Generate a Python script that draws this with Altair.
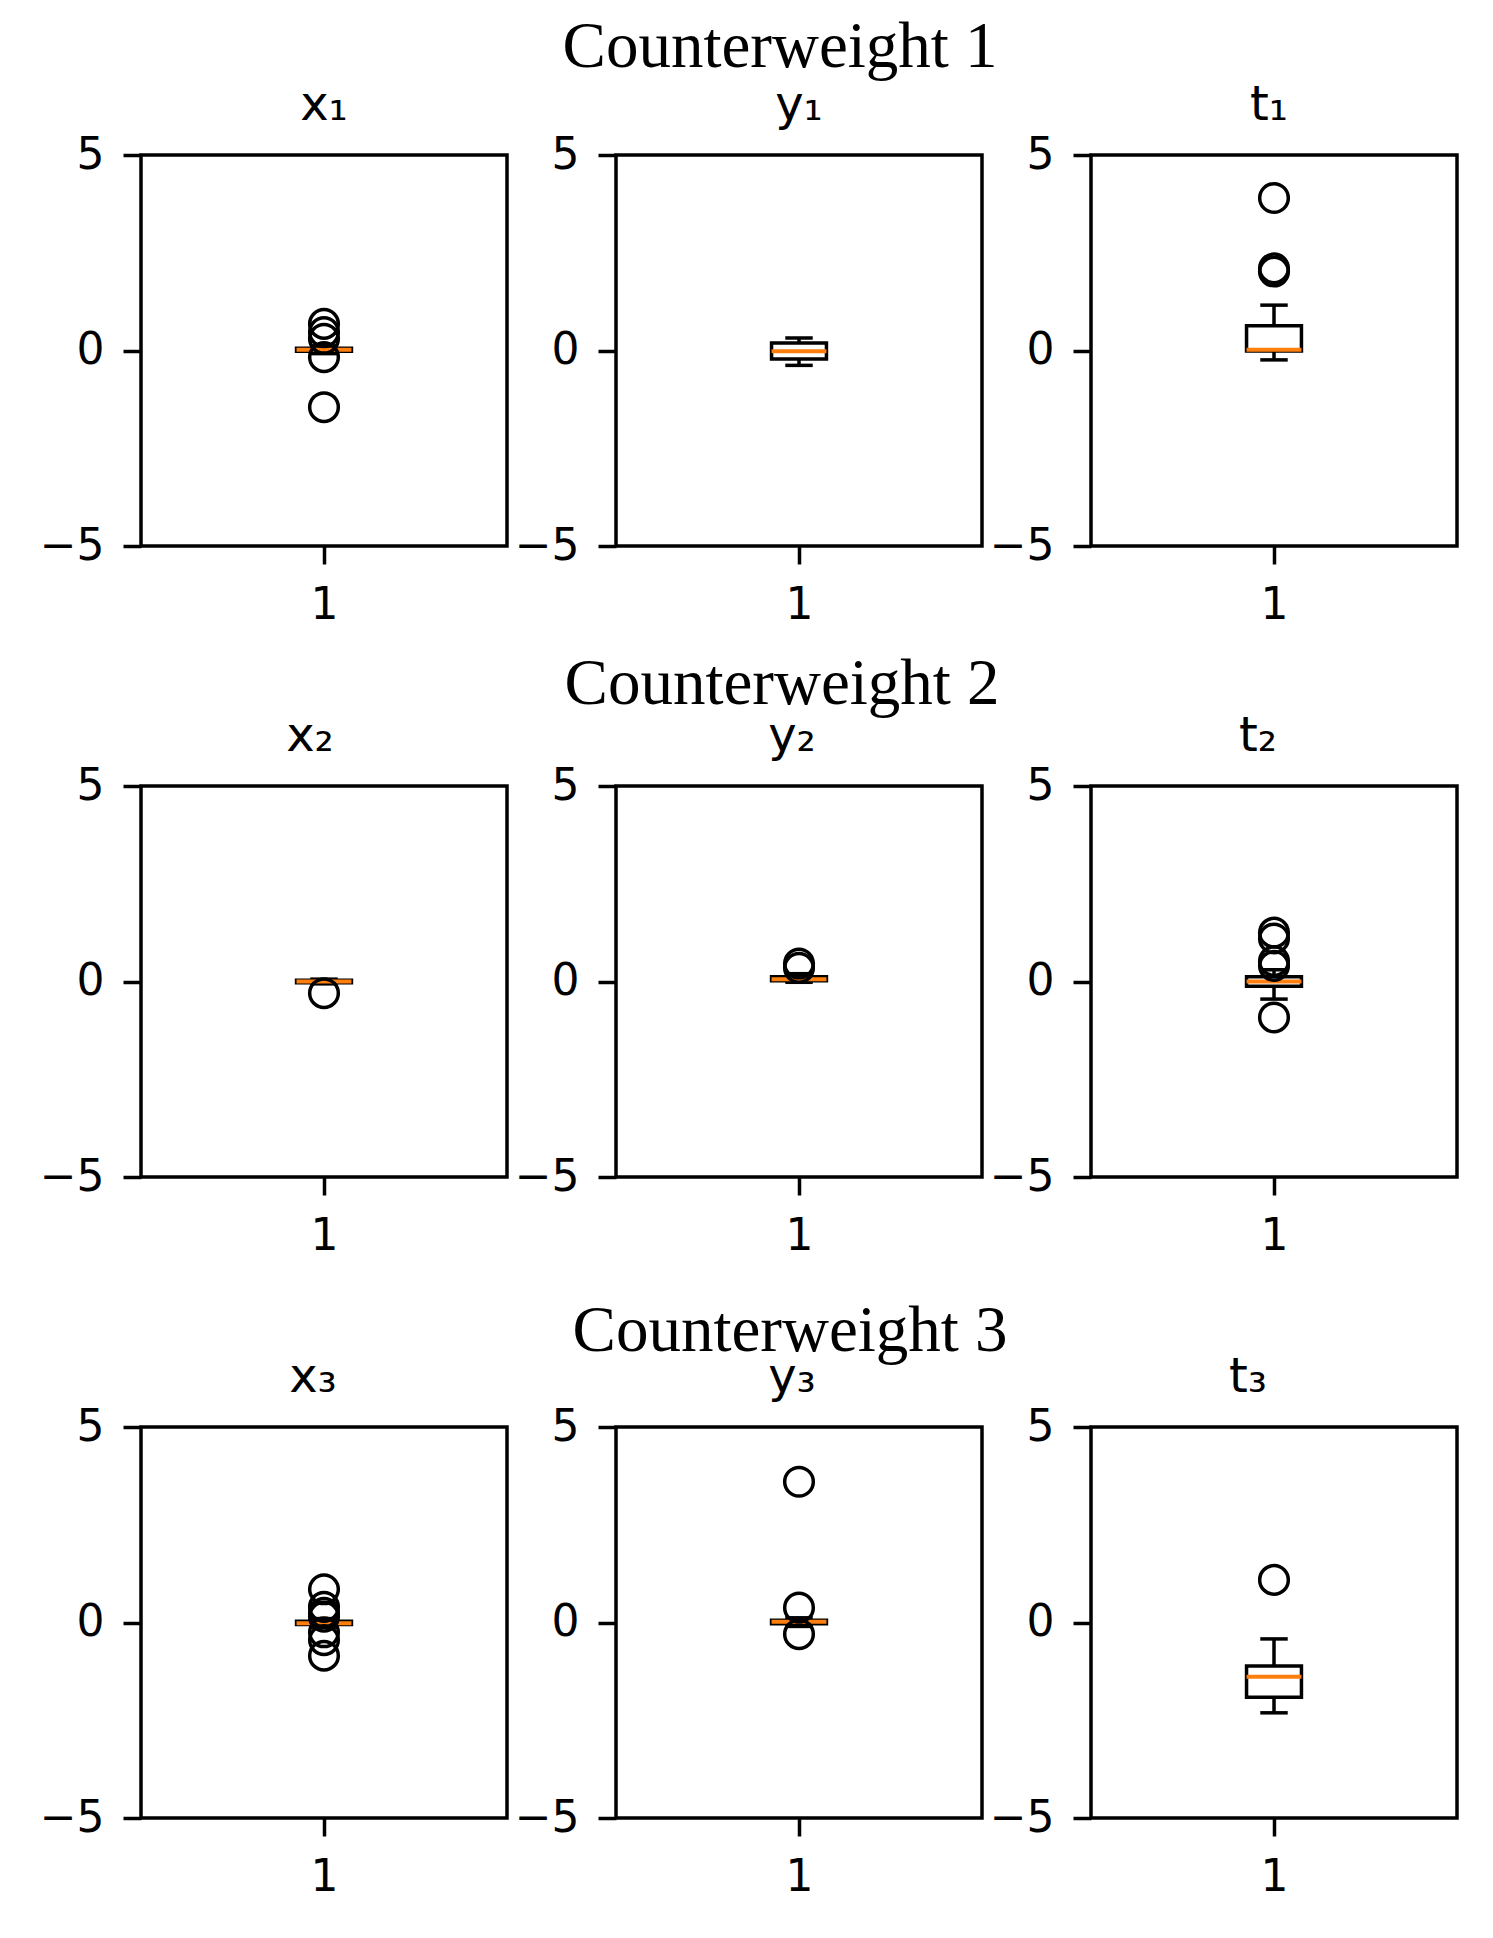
import altair as alt
import pandas as pd

# ---- data ----
panel_names = ["x₁", "y₁", "t₁", "x₂", "y₂", "t₂", "x₃", "y₃", "t₃"]
row_titles = ["Counterweight 1", "Counterweight 2", "Counterweight 3"]
q1 = [-0.02, -0.22, -0.01, -0.03, 0.02, -0.12, -0.05, -0.03, -1.91]
medians = [0.02, -0.02, 0.02, 0.0, 0.06, 0.0, -0.02, 0.02, -1.39]
q3 = [0.06, 0.19, 0.63, 0.03, 0.12, 0.12, 0.03, 0.06, -1.11]
whisker_lo = [-0.08, -0.38, -0.24, -0.06, -0.02, -0.45, -0.12, -0.10, -2.31]
whisker_hi = [0.12, 0.32, 1.16, 0.06, 0.20, 0.30, 0.10, 0.12, -0.42]
outliers = [
    [0.68, 0.47, 0.30, -0.17, -1.45],
    [],
    [3.9, 2.1, 2.02],
    [-0.3],
    [0.46, 0.35],
    [1.25, 1.10, 0.52, 0.40, -0.92],
    [0.85, 0.40, 0.25, 0.15, -0.25, -0.45, -0.85],
    [3.6, 0.38, -0.30],
    [1.09],
]
position = 1
x_ticks = [1]
y_ticks = [-5, 0, 5]

# ---- style ----
BOX_W = 0.15
PW, PH = 366, 391
LW = 3.5
MEDIAN_COLOR = "#ff7f0e"
ROW_TITLE_OFFSETS = [-1, -7, -13]
ROW_TITLE_DX = [32, 34, 42]
PANEL_TITLE_DX = [0, 0, -5, -14, -7, -16, -11, -7, -26]


def panel(i):
    box = pd.DataFrame({
        "pos": [position],
        "left": [position - BOX_W / 2],
        "right": [position + BOX_W / 2],
        "cap_l": [position - BOX_W / 4],
        "cap_r": [position + BOX_W / 4],
        "q1": [q1[i]],
        "med": [medians[i]],
        "q3": [q3[i]],
        "wlo": [whisker_lo[i]],
        "whi": [whisker_hi[i]],
    })
    fl = pd.DataFrame({"pos": [position] * len(outliers[i]), "v": outliers[i]})

    xs = alt.Scale(domain=[0.5, 1.5], nice=False, zero=False)
    ys = alt.Scale(domain=[-5, 5], nice=False, zero=False)
    xax = alt.Axis(values=x_ticks, format="d")
    yax = alt.Axis(values=y_ticks, format="d")

    def X(f):
        return alt.X(f, type="quantitative", scale=xs, axis=xax, title=None)

    def Y(f):
        return alt.Y(f, type="quantitative", scale=ys, axis=yax, title=None)

    base = alt.Chart(box)
    rect = base.mark_rect(fillOpacity=0, stroke="black", strokeWidth=LW).encode(
        x=X("left"), x2="right", y=Y("q1"), y2="q3")
    w_up = base.mark_rule(color="black", strokeWidth=LW).encode(
        x=X("pos"), y=Y("q3"), y2="whi")
    w_dn = base.mark_rule(color="black", strokeWidth=LW).encode(
        x=X("pos"), y=Y("q1"), y2="wlo")
    cap_up = base.mark_rule(color="black", strokeWidth=LW).encode(
        x=X("cap_l"), x2="cap_r", y=Y("whi"))
    cap_dn = base.mark_rule(color="black", strokeWidth=LW).encode(
        x=X("cap_l"), x2="cap_r", y=Y("wlo"))
    med = base.mark_rule(color=MEDIAN_COLOR, strokeWidth=4).encode(
        x=X("left"), x2="right", y=Y("med"))
    pts = alt.Chart(fl).mark_point(
        shape="circle", filled=False, color="black", strokeWidth=LW,
        size=820, opacity=1).encode(x=X("pos"), y=Y("v"))

    return alt.layer(rect, w_up, w_dn, cap_up, cap_dn, med, pts).properties(
        width=PW, height=PH,
        title=alt.TitleParams(text=panel_names[i], font="DejaVu Sans",
                              fontSize=48, fontWeight="normal", color="black",
                              offset=3, dx=PANEL_TITLE_DX[i]),
    )


rows = []
for r in range(3):
    row = alt.hconcat(*[panel(3 * r + c) for c in range(3)], spacing=3).properties(
        title=alt.TitleParams(text=row_titles[r], font="Liberation Serif",
                              fontSize=65, fontWeight="normal", color="black",
                              anchor="middle", offset=ROW_TITLE_OFFSETS[r],
                              dx=ROW_TITLE_DX[r]),
    )
    rows.append(row)

chart = alt.vconcat(
    alt.vconcat(rows[0], rows[1], spacing=23),
    rows[2], spacing=39,
).properties(
    padding={"left": 29, "top": 7, "right": 10, "bottom": 10}
).configure_axis(
    labelFont="DejaVu Sans", labelFontSize=44, labelColor="black",
    tickColor="black", tickSize=18, tickWidth=LW, domain=False, grid=False,
    labelPadding=19,
).configure_view(stroke="black", strokeWidth=LW)

chart.save("out.html", embed_options={"renderer": "svg", "actions": False})
